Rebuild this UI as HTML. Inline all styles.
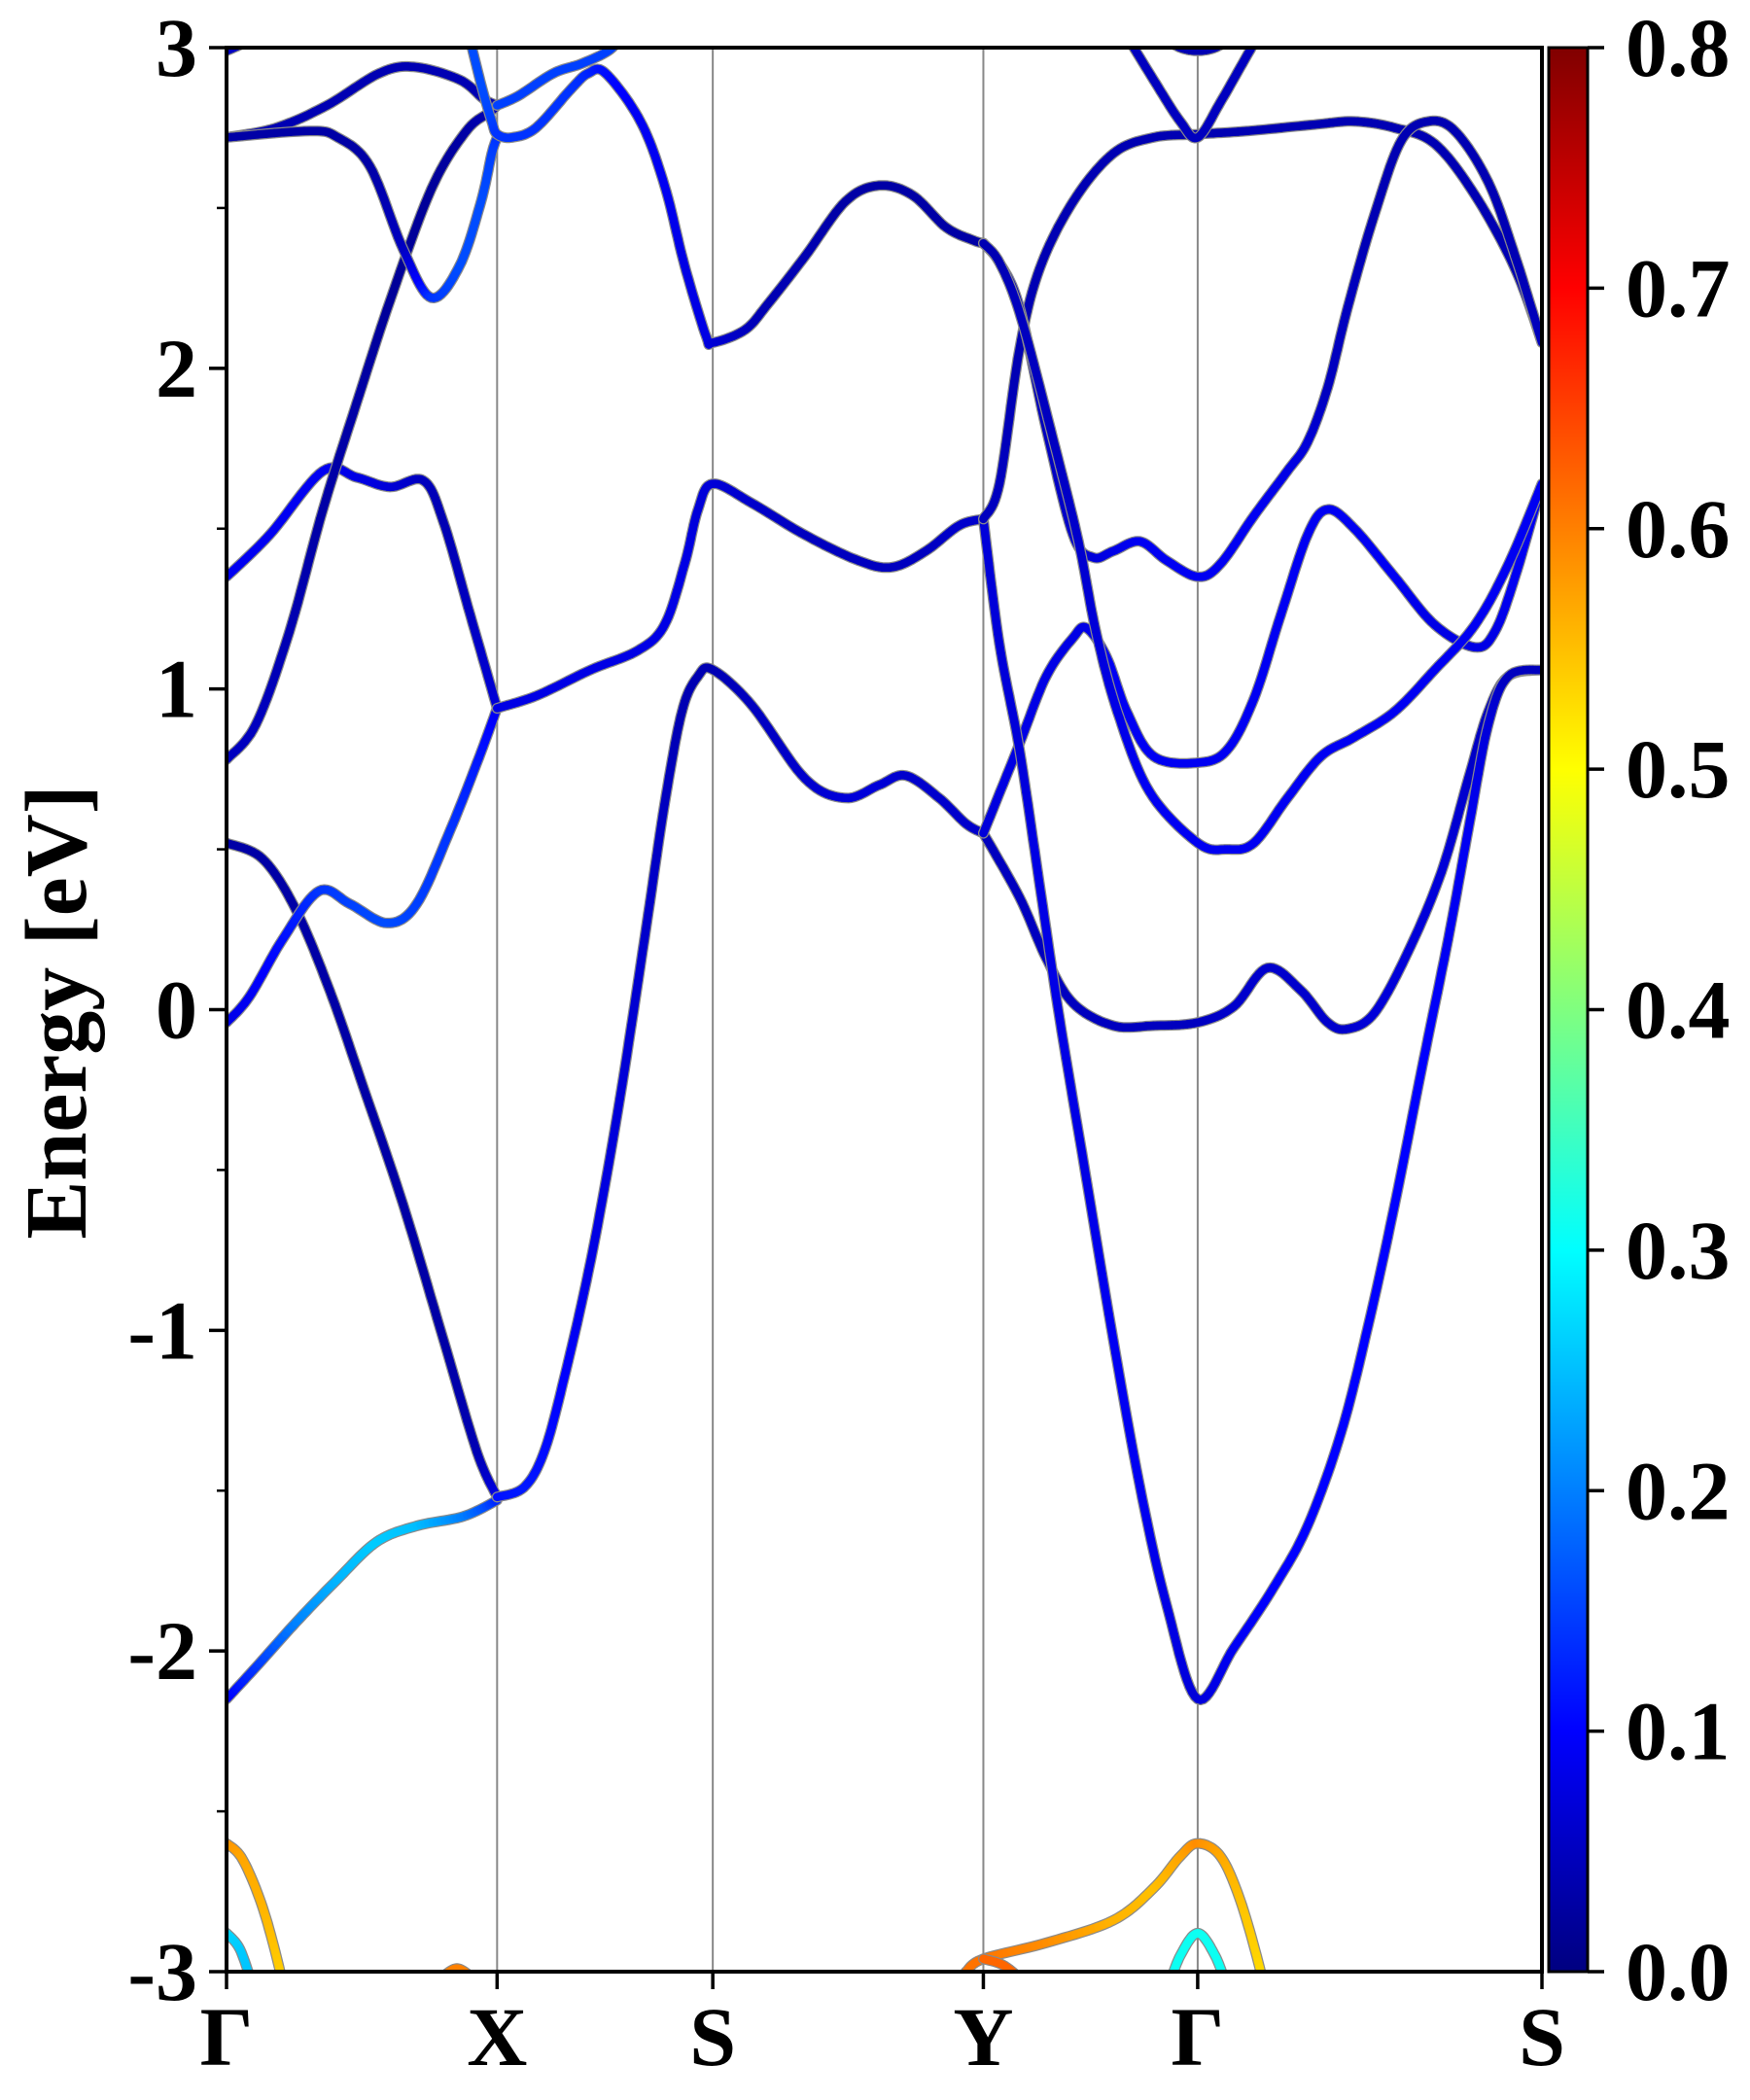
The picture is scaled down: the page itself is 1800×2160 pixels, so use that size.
<!DOCTYPE html>
<html><head><meta charset="utf-8">
<style>
html,body{margin:0;padding:0;background:#fff;}
svg{display:block;}
text{font-family:"Liberation Serif","Times New Roman",Times,serif;font-weight:bold;fill:#000;}
</style></head>
<body>
<svg id="chart" width="1800" height="2160" viewBox="0 0 1800 2160" xmlns="http://www.w3.org/2000/svg" font-family="Liberation Serif, serif">
<defs>
<clipPath id="plotclip"><rect x="233" y="49" width="1353" height="1979"/></clipPath>
<linearGradient id="jet" x1="0" y1="1" x2="0" y2="0">
<stop offset="0" stop-color="#000080"/>
<stop offset="0.125" stop-color="#0000ff"/>
<stop offset="0.375" stop-color="#00ffff"/>
<stop offset="0.625" stop-color="#ffff00"/>
<stop offset="0.875" stop-color="#ff0000"/>
<stop offset="1" stop-color="#800000"/>
</linearGradient>
</defs>
<g id="gridlines"></g>
<g id="bands" clip-path="url(#plotclip)"></g>
<rect x="233" y="49" width="1353" height="1979" fill="none" stroke="#000" stroke-width="4"/>
<g id="axes"></g>
<rect x="1593" y="49" width="40" height="1979" fill="url(#jet)" stroke="#000" stroke-width="3"/>
<g id="cbaxis"></g>
<text x="0" y="0" font-size="90" text-anchor="middle" transform="translate(88,1041) rotate(-90)">Energy [eV]</text>
</svg>
<script>
// ---- data ----
const kLabels = ["Γ","X","S","Y","Γ","S"];
const kPoints = [0,202,363,565,725,982];
const yTicks = [-3,-2,-1,0,1,2,3];
const cbTicks = [0.0,0.1,0.2,0.3,0.4,0.5,0.6,0.7,0.8];

const b1k=[0,22,52,82,112,142,177,202], b1e=[-2.15,-2.05,-1.91,-1.78,-1.66,-1.61,-1.58,-1.53], b1w=[0.09,0.14,0.2,0.24,0.26,0.25,0.2,0.13];
const b2k=[0,27,52,77,102,132,162,187,202], b2e=[0.52,0.47,0.31,0.06,-0.24,-0.61,-1.03,-1.38,-1.52], b2w=[0.03,0.03,0.03,0.03,0.03,0.03,0.03,0.04,0.08];
const b3k=[0,17,42,69,92,120,142,167,187,202], b3e=[-0.04,0.04,0.22,0.37,0.33,0.27,0.33,0.56,0.77,0.94], b3w=[0.08,0.09,0.11,0.14,0.15,0.16,0.15,0.14,0.12,0.09];
const b4k=[0,32,72,97,122,147,162,182,202], b4e=[1.35,1.48,1.68,1.66,1.63,1.65,1.52,1.23,0.94], b4w=[0.09,0.09,0.09,0.08,0.07,0.05,0.04,0.05,0.07];
const b5k=[0,22,47,72,97,122,153,179,197,202], b5e=[0.78,0.89,1.18,1.56,1.89,2.21,2.56,2.74,2.80,2.82], b5w=[0.05,0.05,0.04,0.03,0.03,0.02,0.02,0.03,0.04,0.05];
const b6k=[0,37,75,114,140,174,192,202], b6e=[2.72,2.75,2.82,2.92,2.94,2.90,2.84,2.82], b6w=[0.04,0.04,0.04,0.04,0.04,0.04,0.04,0.05];
const b7k=[0,62,83,107,132,153,174,190,198,202], b7e=[2.72,2.74,2.72,2.63,2.37,2.22,2.32,2.52,2.67,2.72], b7w=[0.03,0.03,0.03,0.03,0.05,0.14,0.16,0.16,0.15,0.14];
const b8k=[182,191,198,202,213,231,257,270,283,309,327,342,358,363,387,404,432,462,487,512,537,557,565];
const b8e=[3.02,2.87,2.77,2.73,2.72,2.75,2.87,2.92,2.92,2.77,2.57,2.32,2.10,2.08,2.12,2.20,2.35,2.52,2.57,2.54,2.44,2.40,2.39];
const b8w=[0.16,0.16,0.15,0.14,0.14,0.14,0.14,0.13,0.11,0.09,0.09,0.08,0.08,0.07,0.05,0.04,0.04,0.03,0.03,0.03,0.03,0.03,0.03];
const b9k=[202,218,244,265,285,297], b9e=[2.82,2.85,2.92,2.95,2.99,3.04], b9w=[0.15,0.15,0.15,0.15,0.15,0.15];
const b10k=[202,232,272,307,327,342,352,363,392,432,472,497,522,547,565];
const b10e=[0.94,0.98,1.06,1.12,1.20,1.39,1.56,1.64,1.58,1.48,1.40,1.38,1.43,1.51,1.53];
const b10w=[0.08,0.08,0.08,0.08,0.08,0.08,0.07,0.07,0.06,0.05,0.05,0.05,0.05,0.06,0.06];
const b11k=[202,222,237,252,272,292,312,327,340,352,363,392,432,462,487,507,532,552,565];
const b11e=[-1.52,-1.49,-1.38,-1.15,-0.78,-0.32,0.22,0.64,0.93,1.04,1.06,0.95,0.72,0.66,0.70,0.73,0.66,0.58,0.55];
const b11w=[0.11,0.12,0.11,0.1,0.08,0.07,0.06,0.05,0.04,0.04,0.04,0.05,0.06,0.07,0.07,0.06,0.06,0.06,0.06];
const b12k=[565,592,612,632,662,692,725,752,777,802,822,837,857,882,907,927,942,957,982];
const b12e=[0.55,0.35,0.16,0.02,-0.05,-0.05,-0.04,0.01,0.13,0.06,-0.04,-0.06,-0.01,0.18,0.43,0.72,0.93,1.04,1.06];
const b12w=[0.05,0.05,0.05,0.05,0.05,0.05,0.05,0.06,0.06,0.06,0.06,0.06,0.07,0.07,0.07,0.06,0.05,0.05,0.05];
const b13k=[565,592,612,632,642,657,672,692,725,747,767,787,807,822,842,872,902,932,947,962,982];
const b13e=[0.55,0.83,1.04,1.16,1.19,1.10,0.93,0.79,0.77,0.81,0.97,1.23,1.48,1.56,1.50,1.35,1.20,1.13,1.18,1.35,1.64];
const b13w=[0.07,0.08,0.08,0.08,0.08,0.09,0.09,0.09,0.09,0.09,0.09,0.09,0.09,0.09,0.09,0.09,0.08,0.08,0.08,0.09,0.09];
const b14k=[565,577,592,607,622,642,662,682,702,725,752,782,807,832,852,872,892,912,927,942,957,982];
const b14e=[1.53,1.14,0.81,0.39,-0.03,-0.53,-1.03,-1.49,-1.86,-2.15,-1.99,-1.80,-1.61,-1.32,-0.99,-0.61,-0.19,0.22,0.56,0.89,1.04,1.06];
const b14w=[0.07,0.07,0.07,0.08,0.08,0.08,0.09,0.09,0.08,0.07,0.09,0.1,0.1,0.1,0.1,0.1,0.1,0.09,0.09,0.07,0.05,0.05];
const b15k=[565,577,592,607,632,662,692,725,762,812,842,872,902,932,962,982];
const b15e=[1.53,1.64,2.06,2.31,2.52,2.67,2.72,2.73,2.74,2.76,2.77,2.75,2.70,2.54,2.31,2.08];
const b15w=[0.05,0.05,0.04,0.04,0.04,0.04,0.04,0.04,0.04,0.04,0.04,0.04,0.04,0.04,0.04,0.05];
const b16k=[565,577,592,612,632,647,662,682,702,725,742,767,792,807,822,837,857,877,897,917,942,962,982];
const b16e=[2.39,2.33,2.19,1.81,1.48,1.41,1.43,1.46,1.40,1.35,1.39,1.54,1.68,1.77,1.94,2.19,2.48,2.71,2.77,2.74,2.58,2.35,2.08];
const b16w=[0.04,0.04,0.05,0.05,0.06,0.07,0.08,0.09,0.09,0.09,0.09,0.09,0.08,0.07,0.05,0.05,0.04,0.04,0.04,0.04,0.04,0.04,0.05];
const b17k=[565,577,593,617,636,649,665,689,725,747,767,792,817,842,872,902,932,957,982];
const b17e=[2.39,2.33,2.16,1.78,1.46,1.18,0.93,0.68,0.52,0.50,0.52,0.66,0.79,0.85,0.93,1.06,1.20,1.39,1.64];
const b17w=[0.04,0.04,0.05,0.05,0.06,0.07,0.08,0.09,0.09,0.09,0.09,0.09,0.09,0.09,0.09,0.09,0.09,0.09,0.09];
const b18k=[670,692,712,725,742,757,772], b18e=[3.05,2.90,2.77,2.72,2.83,2.94,3.05], b18w=[0.05,0.05,0.05,0.05,0.05,0.05,0.05];
const b19k=[700,712,725,738,750], b19e=[3.03,3.0,2.99,3.0,3.03], b19w=[0.04,0.04,0.04,0.04,0.04];
const b19bk=[0,15,25], b19be=[2.99,3.02,3.06], b19bw=[0.05,0.05,0.05];
const b20k=[0,12,27,40,44], b20e=[-2.6,-2.65,-2.80,-3.0,-3.1], b20w=[0.59,0.57,0.56,0.54,0.53];
const b21k=[0,10,20], b21e=[-2.88,-2.93,-3.05], b21w=[0.27,0.26,0.25];
const b22k=[160,172,184], b22e=[-3.02,-2.99,-3.02], b22w=[0.6,0.6,0.6];
const b23k=[552,565,612,662,692,712,725,742,757,772,776];
const b23e=[-3.0,-2.96,-2.91,-2.84,-2.74,-2.64,-2.60,-2.64,-2.78,-3.0,-3.1];
const b23w=[0.61,0.61,0.59,0.56,0.55,0.57,0.59,0.57,0.55,0.53,0.53];
const b24k=[565,580,595], b24e=[-2.96,-2.98,-3.03], b24w=[0.62,0.62,0.62];
const b25k=[703,712,725,738,747], b25e=[-3.05,-2.95,-2.88,-2.95,-3.05], b25w=[0.31,0.31,0.31,0.31,0.31];

const bandList=[[b1k,b1e,b1w],[b2k,b2e,b2w],[b3k,b3e,b3w],[b4k,b4e,b4w],[b5k,b5e,b5w],[b6k,b6e,b6w],[b7k,b7e,b7w],[b8k,b8e,b8w],[b9k,b9e,b9w],[b10k,b10e,b10w],[b11k,b11e,b11w],[b12k,b12e,b12w],[b13k,b13e,b13w],[b14k,b14e,b14w],[b15k,b15e,b15w],[b16k,b16e,b16w],[b17k,b17e,b17w],[b18k,b18e,b18w],[b19k,b19e,b19w],[b19bk,b19be,b19bw],[b20k,b20e,b20w],[b21k,b21e,b21w],[b22k,b22e,b22w],[b23k,b23e,b23w],[b24k,b24e,b24w],[b25k,b25e,b25w]];

// ---- scales ----
const X0=233,X1=1586,Y0=49,Y1=2028,KMAX=982,EMIN=-3,EMAX=3,WMAX=0.8;
function xs(k){return X0+k/KMAX*(X1-X0);}
function ys(e){return Y1-(e-EMIN)/(EMAX-EMIN)*(Y1-Y0);}
function cy(v){return Y1-v/WMAX*(Y1-Y0);}
function jet(w){const t=Math.max(0,Math.min(1,w/WMAX));
 const f=v=>Math.round(255*Math.max(0,Math.min(1,1.5-Math.abs(v))));
 return "rgb("+f(4*t-3)+","+f(4*t-2)+","+f(4*t-1)+")";}
const NS="http://www.w3.org/2000/svg";
function mk(tag,attrs,parent){const el=document.createElementNS(NS,tag);for(const a in attrs)el.setAttribute(a,attrs[a]);parent.appendChild(el);return el;}

const grid=document.getElementById('gridlines'), axes=document.getElementById('axes');
kPoints.forEach((k,i)=>{
  if(i>0&&i<kPoints.length-1){const l=mk('line',{x1:xs(k),x2:xs(k),y1:Y0,y2:Y1,stroke:'#888',"stroke-width":2},grid);
  
  }
  const t=mk('line',{x1:xs(k),x2:xs(k),y1:Y1,y2:Y1+18,stroke:'#000',"stroke-width":3.5},axes);
  
  
  const tx=mk('text',{x:xs(k),y:2124,"font-size":86,"text-anchor":"middle"},axes);
  tx.textContent=kLabels[i];
  
  
});
yTicks.forEach(v=>{
  const t=mk('line',{x1:X0-18,x2:X0,y1:ys(v),y2:ys(v),stroke:'#000',"stroke-width":3.5},axes);
  
  
  const tx=mk('text',{x:203,y:ys(v)+29,"font-size":86,"text-anchor":"end"},axes);
  tx.textContent=String(v);
  
  
  if(v<EMAX){const m=mk('line',{x1:X0-10,x2:X0,y1:ys(v+0.5),y2:ys(v+0.5),stroke:'#000',"stroke-width":2.5},axes);
  
  }
});
const cb=document.getElementById('cbaxis');
cbTicks.forEach(v=>{
  const t=mk('line',{x1:1633,x2:1650,y1:cy(v),y2:cy(v),stroke:'#000',"stroke-width":3.5},cb);
  
  
  const tx=mk('text',{x:1672,y:cy(v)+29,"font-size":86},cb);
  tx.textContent=v.toFixed(1);
  
  
});

const bandsG=document.getElementById('bands');
function sample(K,E,W){
  const pts=[];const n=K.length;
  for(let i=0;i<n-1;i++){
    const p0=i>0?i-1:i,p3=i+2<n?i+2:i+1;
    for(let s=0;s<12;s++){const t=s/12,t2=t*t,t3=t2*t;
      const cr=(a,b,c,d)=>0.5*((2*b)+(-a+c)*t+(2*a-5*b+4*c-d)*t2+(-a+3*b-3*c+d)*t3);
      pts.push([xs(cr(K[p0],K[i],K[i+1],K[p3])),ys(cr(E[p0],E[i],E[i+1],E[p3])),W[i]+(W[i+1]-W[i])*t]);}
  }
  pts.push([xs(K[n-1]),ys(E[n-1]),W[n-1]]);
  return pts;
}
bandList.forEach((b,bi)=>{
  const pts=sample(b[0],b[1],b[2]);
  const g=mk('g',{},bandsG);
  
  
  mk('polyline',{points:pts.map(p=>p[0].toFixed(1)+","+p[1].toFixed(1)).join(" "),fill:'none',stroke:'#8a8a8a',"stroke-width":11,"stroke-linejoin":"round","stroke-linecap":"round"},g);
  for(let i=0;i<pts.length-1;i++){
    mk('line',{x1:pts[i][0].toFixed(1),y1:pts[i][1].toFixed(1),x2:pts[i+1][0].toFixed(1),y2:pts[i+1][1].toFixed(1),stroke:jet((pts[i][2]+pts[i+1][2])/2),"stroke-width":8.5,"stroke-linecap":"round"},g);
  }
});
</script>
</body></html>
